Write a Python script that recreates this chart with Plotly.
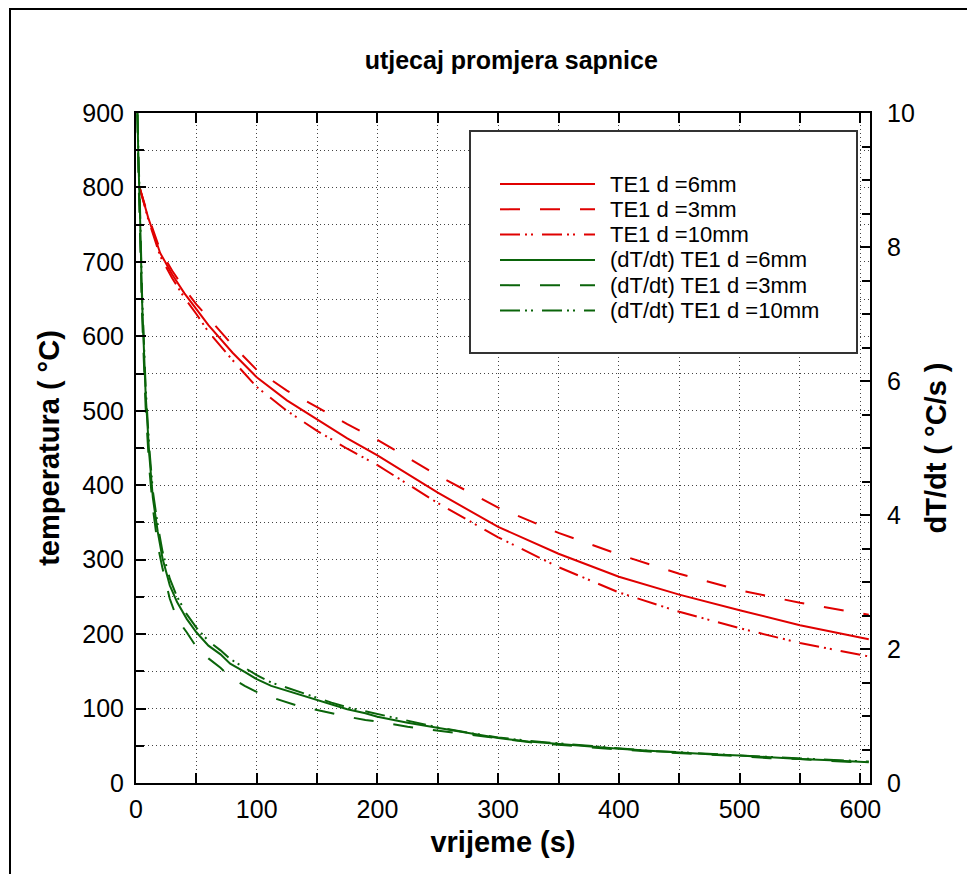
"""Temperature and cooling rate over time for three nozzle diameters."""

import plotly.graph_objects as go

OFF = 8  # page body margin of the html file
W, H = 975 - OFF, 874 - OFF
L, R, T, B = 136 - OFF, 870 - OFF, 113 - OFF, 783 - OFF  # plot area in px

# --- data ---
time_te = [3, 10, 20, 30, 40, 50, 60, 80, 100, 125, 150, 175, 200, 250,
           300, 350, 400, 450, 500, 550, 607]
te_6mm = [800, 760, 712, 683, 658, 637, 615, 578, 545, 514, 488, 463, 440,
          390, 344, 308, 277, 253, 232, 212, 193]
te_3mm = [800, 762, 716, 688, 664, 643, 625, 588, 555, 527, 505, 482, 461,
          413, 370, 336, 307, 281, 259, 242, 226]
te_10mm = [800, 758, 708, 678, 652, 630, 606, 568, 532, 500, 473, 449, 427,
           376, 330, 290, 256, 230, 208, 188, 170]

time_rate = [0.5, 1, 2, 3.3, 5, 8, 11, 14, 18, 22, 28, 34, 42, 50, 60, 70,
             78, 90, 100, 112, 125, 138, 150, 162, 175, 190, 200, 225, 250,
             275, 300, 325, 350, 375, 400, 425, 450, 475, 500, 525, 550,
             575, 607]
rate_6mm = [10.6, 10.0, 9.3, 8.5, 7.2, 5.8, 4.9, 4.25, 3.75, 3.35, 2.95,
            2.7, 2.45, 2.25, 2.05, 1.92, 1.78, 1.66, 1.55, 1.45, 1.38, 1.30,
            1.24, 1.17, 1.10, 1.04, 0.99, 0.90, 0.82, 0.74, 0.67, 0.62, 0.58,
            0.54, 0.51, 0.48, 0.45, 0.43, 0.41, 0.38, 0.36, 0.34, 0.31]
rate_3mm = [10.6, 9.9, 9.1, 8.2, 7.0, 5.6, 4.7, 4.1, 3.55, 3.2, 2.75, 2.45,
            2.25, 2.03, 1.86, 1.72, 1.58, 1.45, 1.36, 1.28, 1.20, 1.13, 1.09,
            1.04, 0.99, 0.94, 0.92, 0.84, 0.78, 0.72, 0.66, 0.61, 0.57, 0.53,
            0.50, 0.47, 0.45, 0.42, 0.40, 0.37, 0.36, 0.33, 0.30]
rate_10mm = [10.6, 10.1, 9.4, 8.6, 7.3, 5.9, 5.0, 4.35, 3.85, 3.45, 3.05,
             2.78, 2.52, 2.32, 2.12, 1.98, 1.85, 1.72, 1.61, 1.50, 1.42, 1.34,
             1.27, 1.20, 1.13, 1.07, 1.02, 0.92, 0.83, 0.75, 0.68, 0.63, 0.59,
             0.55, 0.51, 0.48, 0.46, 0.43, 0.41, 0.39, 0.37, 0.34, 0.32]

names = ['TE1 d =6mm', 'TE1 d =3mm', 'TE1 d =10mm',
         '(dT/dt) TE1 d =6mm', '(dT/dt) TE1 d =3mm', '(dT/dt) TE1 d =10mm']

RED = '#e00000'
GREEN = '#0a640a'
DASH = '20px,20px'
DASHDOT = '20px,5px,2px,4px,2px,9px'
FONT = 'Liberation Sans, Arial, sans-serif'

series = [
    (time_te, te_6mm, RED, 'solid', 'y'),
    (time_te, te_3mm, RED, DASH, 'y'),
    (time_te, te_10mm, RED, DASHDOT, 'y'),
    (time_rate, rate_6mm, GREEN, 'solid', 'y2'),
    (time_rate, rate_3mm, GREEN, DASH, 'y2'),
    (time_rate, rate_10mm, GREEN, DASHDOT, 'y2'),
]


# page pixel -> paper coordinate
def px(x):
  return (x - OFF - L) / (R - L)


def py(y):
  return (B - (y - OFF)) / (B - T)


fig = go.Figure()
for (t, v, color, dash, yax), name in zip(series, names):
  fig.add_trace(
      go.Scatter(
          x=t, y=v, mode='lines', name=name, yaxis=yax,
          line=dict(color=color, width=2, dash=dash),
          showlegend=False,
      )
  )

# hand-drawn legend box, like the original
shapes = [
    dict(type='rect', xref='paper', yref='paper',
         x0=px(470), x1=px(857), y0=py(131), y1=py(353),
         line=dict(color='#333333', width=2), fillcolor='white', layer='above'),
    # frame around the whole figure
    dict(type='rect', xref='paper', yref='paper',
         x0=px(10), x1=px(990), y0=py(9), y1=py(900),
         line=dict(color='black', width=2)),
]
annotations = []
for i, ((_, _, color, dash, _), name) in enumerate(zip(series, names)):
  yy = py(184 + i * 25.3)
  shapes.append(dict(type='line', xref='paper', yref='paper',
                     x0=px(500), x1=px(595), y0=yy, y1=yy, layer='above',
                     line=dict(color=color, width=2, dash=dash)))
  annotations.append(dict(xref='paper', yref='paper', x=px(608), y=yy,
                          text=name, showarrow=False, xanchor='left',
                          yanchor='middle',
                          font=dict(family=FONT, size=22, color='black')))

axis_common = dict(
    showline=True, linecolor='black', linewidth=2,
    ticks='inside', tickcolor='black', tickwidth=2, ticklen=10,
    tickfont=dict(family=FONT, size=25, color='black'),
    zeroline=False, automargin=False,
)

fig.update_layout(
    width=W, height=H,
    margin=dict(l=L, r=W - R, t=T, b=H - B),
    plot_bgcolor='white', paper_bgcolor='white',
    title=dict(text='<b>utjecaj promjera sapnice</b>', x=px(518),
               xanchor='center', y=1 - (60 - OFF) / H, yanchor='middle',
               font=dict(family=FONT, size=25, color='black')),
    xaxis=dict(
        range=[0, 608], dtick=100, mirror='allticks',
        showgrid=True, gridcolor='#444444', gridwidth=1, griddash='1px,3px',
        minor=dict(dtick=50, ticks='inside', ticklen=8, tickwidth=2,
                   tickcolor='black', showgrid=True, gridcolor='#444444',
                   gridwidth=1, griddash='1px,3px'),
        title=dict(text='<b>vrijeme (s)</b>', standoff=10,
                   font=dict(family=FONT, size=29, color='black')),
        ticklabelstandoff=3,
        **axis_common,
    ),
    yaxis=dict(
        range=[0, 900], dtick=100,
        showgrid=True, gridcolor='#444444', gridwidth=1, griddash='1px,3px',
        minor=dict(dtick=50, ticks='inside', ticklen=8, tickwidth=2,
                   tickcolor='black', showgrid=True, gridcolor='#444444',
                   gridwidth=1, griddash='1px,3px'),
        title=dict(text='<b>temperatura ( °C)</b>', standoff=14,
                   font=dict(family=FONT, size=29, color='black')),
        ticklabelstandoff=5,
        **axis_common,
    ),
    yaxis2=dict(
        range=[0, 10], dtick=2, overlaying='y', side='right',
        showgrid=False,
        minor=dict(dtick=0.5, ticks='inside', ticklen=8, tickwidth=2,
                   tickcolor='black'),
        title=dict(text='<b>dT/dt ( °C/s )</b>', standoff=12,
                   font=dict(family=FONT, size=29, color='black')),
        ticklabelstandoff=10,
        **axis_common,
    ),
    shapes=shapes,
    annotations=annotations,
    showlegend=False,
)

fig.write_html('out.html')
